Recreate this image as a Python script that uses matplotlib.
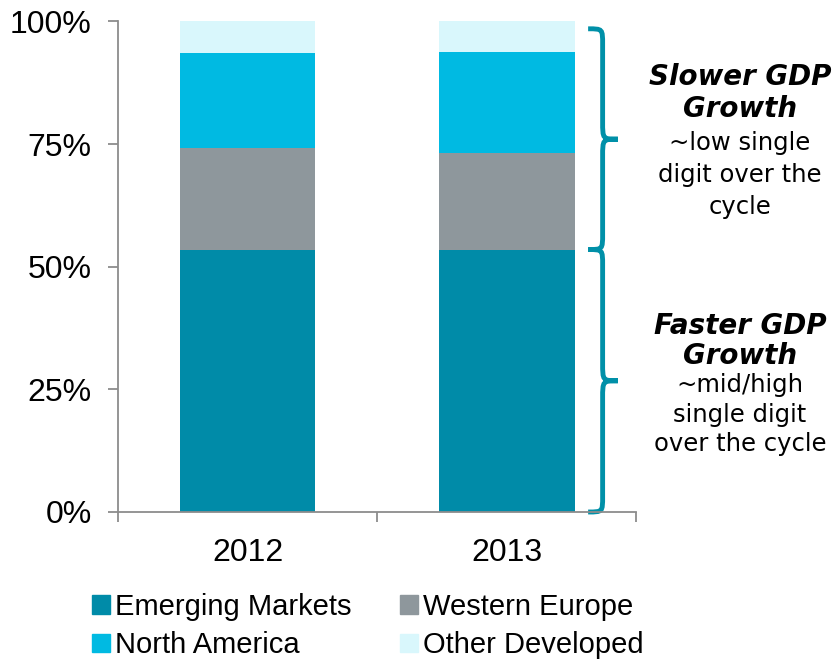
import matplotlib.pyplot as plt
from matplotlib.path import Path
from matplotlib.patches import PathPatch, Patch

# data (share of total, %)
years = ['2012', '2013']
emerging = [53.4, 53.5]
w_europe = [20.9, 19.7]
n_america = [19.3, 20.5]
other_dev = [6.4, 6.3]

series_names = ['Emerging Markets', 'Western Europe', 'North America', 'Other Developed']
colors = ['#008BA8', '#8E979C', '#00BAE2', '#D9F7FC']
brace_col = '#0090A8'

fig = plt.figure(figsize=(8.38, 6.62), dpi=100)
ax = fig.add_axes([0.1408, 0.2266, 0.6182, 0.741])

x = range(len(years))
bottom = [0, 0]
for vals, c in zip([emerging, w_europe, n_america, other_dev], colors):
    ax.bar(x, vals, width=0.525, bottom=bottom, color=c, edgecolor='none')
    bottom = [b + v for b, v in zip(bottom, vals)]

ax.set_xlim(-0.5, 1.5)
ax.set_ylim(0, 100)
ax.set_yticks([0, 25, 50, 75, 100])
ax.set_yticklabels(['0%', '25%', '50%', '75%', '100%'], fontsize=23, family='Liberation Sans')
ax.set_xticks(list(x))
ax.set_xticklabels(years, fontsize=23, family='Liberation Sans')
ax.set_xticks([-0.5, 0.5, 1.5], minor=True)
ax.tick_params(axis='x', which='major', length=0, pad=19)
ax.tick_params(axis='x', which='minor', length=7, width=1.3, color='#8c8c8c', direction='out')
ax.tick_params(axis='y', length=7, width=1.3, color='#8c8c8c', direction='out', pad=12)
for s in ['top', 'right']:
    ax.spines[s].set_visible(False)
for s in ['left', 'bottom']:
    ax.spines[s].set_color('#8c8c8c')
    ax.spines[s].set_linewidth(1.3)


def brace(y_top, y_bot, x0=1.315, xm=1.371, xt=1.43, r=3.2, rt=3.6):
    # curly brace opening to the left, tip pointing right
    ym = (y_top + y_bot) / 2
    verts = [(x0, y_top), (xm, y_top), (xm, y_top), (xm, y_top - r),
             (xm, ym + rt),
             (xm, ym), (xm, ym), (xt, ym),
             (xm, ym), (xm, ym), (xm, ym - rt),
             (xm, y_bot + r),
             (xm, y_bot), (xm, y_bot), (x0, y_bot)]
    codes = ([Path.MOVETO] + [Path.CURVE4] * 3 + [Path.LINETO] + [Path.CURVE4] * 6
             + [Path.LINETO] + [Path.CURVE4] * 3)
    return Path(verts, codes)


mid = emerging[1]
for yt, yb in [(98.5, mid), (mid, 0.0)]:
    ax.add_patch(PathPatch(brace(yt, yb), fill=False, edgecolor=brace_col, lw=3.5,
                           clip_on=False, capstyle='butt'))

# side notes
notes = [
    ('Slower GDP', 'bold', 77), ('Growth', 'bold', 109),
    ('~low single', 'normal', 143), ('digit over the', 'normal', 175), ('cycle', 'normal', 207),
    ('Faster GDP', 'bold', 326), ('Growth', 'bold', 356),
    ('~mid/high', 'normal', 385), ('single digit', 'normal', 415), ('over the cycle', 'normal', 444),
]
for txt, wt, ypx in notes:
    fig.text(740 / 838, 1 - ypx / 662, txt, ha='center', va='center',
             fontsize=20 if wt == 'bold' else 17.5,
             family='DejaVu Sans', weight=wt, style='italic' if wt == 'bold' else 'normal')

handles = [Patch(color=c, label=n) for c, n in zip(colors, series_names)]
order = [0, 2, 1, 3]
fig.legend([handles[i] for i in order], [series_names[i] for i in order], ncol=2,
           loc='center left', bbox_to_anchor=(92 / 838, 1 - 626 / 662), frameon=False,
           prop={'family': 'Liberation Sans', 'size': 21},
           handlelength=0.62, handleheight=0.62, handletextpad=0.18,
           columnspacing=1.65, labelspacing=0.36, borderpad=0, borderaxespad=0)

fig.savefig('out.png', dpi=100)
